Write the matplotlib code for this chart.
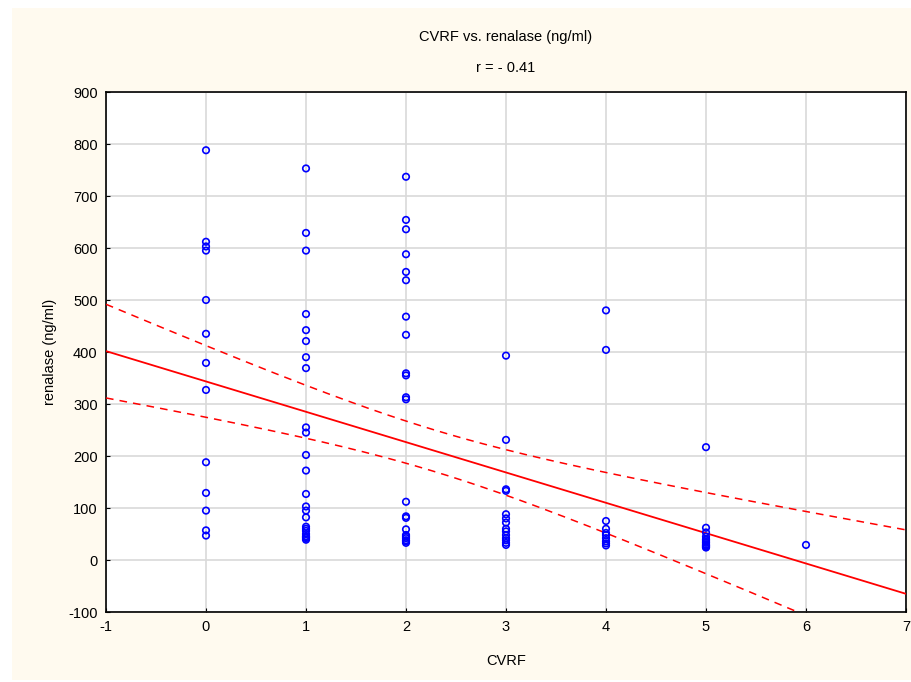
import numpy as np
import matplotlib.pyplot as plt
from matplotlib.patches import Rectangle

# CVRF count and renalase (ng/ml)
cvrf_0 = [788, 612, 603, 595, 500, 435, 379, 327, 188, 129, 95, 57, 47]
cvrf_1 = [753, 629, 595, 473, 442, 421, 390, 369, 255, 245, 202, 172, 127,
          103, 95, 82, 64, 60, 56, 50, 46, 44, 42, 39]
cvrf_2 = [737, 654, 636, 588, 554, 538, 468, 433, 359, 355, 313, 309, 112,
          84, 81, 59, 48, 45, 42, 38, 36, 33]
cvrf_3 = [393, 231, 136, 133, 88, 80, 72, 60, 55, 48, 42, 38, 33, 29]
cvrf_4 = [480, 404, 75, 60, 52, 48, 42, 36, 32, 28]
cvrf_5 = [217, 62, 53, 45, 40, 38, 35, 33, 30, 28, 27, 25, 24]
cvrf_6 = [29]

groups = [cvrf_0, cvrf_1, cvrf_2, cvrf_3, cvrf_4, cvrf_5, cvrf_6]
x = np.concatenate([[i] * len(g) for i, g in enumerate(groups)]).astype(float)
y = np.concatenate(groups).astype(float)

xticks = list(range(-1, 8))
yticks = list(range(-100, 1000, 100))

plt.rcParams["font.family"] = ["Liberation Sans", "DejaVu Sans"]
plt.rcParams["axes.unicode_minus"] = False

fig = plt.figure(figsize=(9.11, 6.82), dpi=100)
fig.patch.set_facecolor("white")
fig.patches.append(Rectangle((12 / 911, 2 / 682), 1, 1 - 10 / 682,
                             transform=fig.transFigure, facecolor="#fffaef",
                             edgecolor="none", zorder=-10))
ax = fig.add_axes([106 / 911, 70 / 682, 800 / 911, 520 / 682])
ax.set_facecolor("white")

# linear fit with 95% confidence band
slope, intercept = np.polyfit(x, y, 1)
n = len(x)
resid = y - (slope * x + intercept)
s = np.sqrt(np.sum(resid ** 2) / (n - 2))
sxx = np.sum((x - x.mean()) ** 2)
t = 1.986
xs = np.linspace(-1, 7, 200)
fit = slope * xs + intercept
half = t * s * np.sqrt(1 / n + (xs - x.mean()) ** 2 / sxx)

ax.plot(xs, fit, color="red", lw=1.3, zorder=3)
ax.plot(xs, fit + half, color="red", lw=1.1, ls=(0, (5, 4)), zorder=3)
ax.plot(xs, fit - half, color="red", lw=1.1, ls=(0, (5, 4)), zorder=3)

ax.scatter(x, y, s=22, facecolors="none", edgecolors="blue", linewidths=1.2, zorder=4)

ax.set_xlim(-1, 7)
ax.set_ylim(-100, 900)
ax.set_xticks(xticks)
ax.set_yticks(yticks)
ax.grid(True, color="#d9d9d9", lw=1.2)
ax.set_axisbelow(True)
ax.tick_params(direction="in", length=3, labelsize=10.5, pad=6)
for sp in ax.spines.values():
    sp.set_linewidth(1.2)

ax.set_xlabel("CVRF", fontsize=10.5, labelpad=14)
ax.set_ylabel("renalase (ng/ml)", fontsize=10.5, labelpad=8)
fig.text(506 / 911, 1 - 37 / 682, "CVRF vs. renalase (ng/ml)", ha="center", va="center", fontsize=10.5)
fig.text(506 / 911, 1 - 68 / 682, "r = - 0.41", ha="center", va="center", fontsize=10.5)

fig.savefig("out.png", dpi=100, facecolor=fig.get_facecolor())
